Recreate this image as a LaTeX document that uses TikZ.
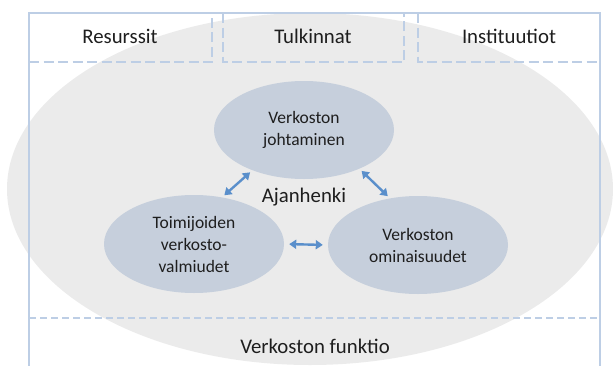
\documentclass[tikz,border=0pt]{standalone}
\usepackage{fontspec}
\setmainfont{Carlito}
\usetikzlibrary{arrows.meta,shapes.geometric}
\definecolor{biggray}{HTML}{EBEBEB}
\definecolor{ellblue}{HTML}{C6CFDC}
\definecolor{linblue}{HTML}{BDCEE5}
\definecolor{arrblue}{HTML}{5A8FCB}
\definecolor{txt}{HTML}{1E1E1E}
\begin{document}
\begin{tikzpicture}[x=1pt,y=-1pt,
 frame/.style={draw=linblue, line width=2.6pt},
 dashline/.style={draw=linblue, line width=2.4pt, dash pattern=on 10pt off 4.5pt},
 dashlinetwo/.style={draw=linblue, line width=2.2pt, dash pattern=on 7pt off 4pt},
 inner/.style={ellipse, fill=ellblue, minimum width=180pt, minimum height=98pt, inner sep=0pt, align=center, font=\fontsize{17.5}{22}\selectfont, text=txt},
 lbl/.style={font=\fontsize{20.8}{24}\selectfont, text=txt, anchor=base, inner sep=0pt},
 biarrow/.style={draw=arrblue, line width=2.4pt, {Triangle[length=7pt,width=9pt]}-{Triangle[length=7pt,width=9pt]}, shorten <=3pt, shorten >=3pt}]
\useasboundingbox (0,0) rectangle (614,365);
\fill[biggray] (310,189) ellipse [x radius=303, y radius=176];
\draw[frame] (29,368) -- (29,13) -- (600,13) -- (600,368);
\draw[dashline] (29,62) -- (212,62) -- (212,13);
\draw[dashline] (223,13) -- (223,62) -- (404,62) -- (404,13);
\draw[dashline] (418,13) -- (418,62) -- (600,62);
\draw[dashlinetwo] (29,318) -- (600,318);
\node[lbl] (res) at (120,43) {Resurssit};
\node[lbl] (tul) at (313,43) {Tulkinnat};
\node[lbl] (ins) at (509,43) {Instituutiot};
\node[lbl] (fun) at (315,353) {Verkoston funktio};
\node[inner] (T) at (304,130) {Verkoston\\johtaminen};
\node[inner] (L) at (194,244) {Toimijoiden\\verkosto-\\valmiudet};
\node[inner] (R) at (418,245) {Verkoston\\ominaisuudet};
\node[lbl] (aj) at (304,202) {Ajanhenki};
\draw[biarrow] (L.59) -- (T.218);
\draw[biarrow] (T.-35) -- (R.121);
\draw[biarrow, shorten <=5pt, shorten >=5pt] (L.0) -- (R.180);
\end{tikzpicture}
\end{document}
